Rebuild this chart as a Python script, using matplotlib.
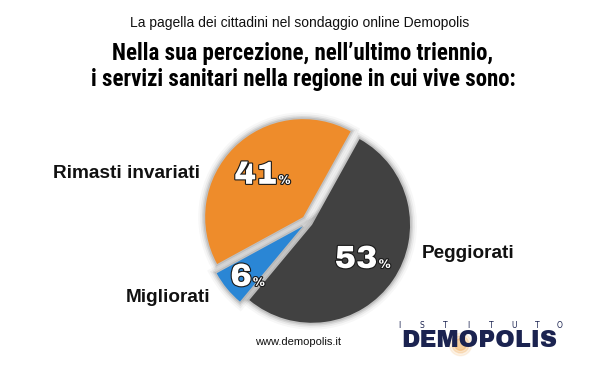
import numpy as np
import matplotlib.pyplot as plt
import matplotlib.patheffects as pe
from matplotlib.patches import Wedge

# data
categories = ['Peggiorati', 'Migliorati', 'Rimasti invariati']
values = [53, 6, 41]
colors = ['#414141', '#2a86d5', '#ee8c2b']
explode = [0.05, 0.07, 0.07]

subtitle = 'La pagella dei cittadini nel sondaggio online Demopolis'
title_lines = ["Nella sua percezione, nell\u2019ultimo triennio,",
               "i servizi sanitari nella regione in cui vive sono:"]
site = 'www.demopolis.it'

W, H = 600, 366
fig = plt.figure(figsize=(W / 100, H / 100), dpi=100)
fig.patch.set_facecolor('white')

# pie axes: centre about (308, 222) px, radius ~98 px
cx, cy, R = 308, 222, 98
span = 1.4
ax = fig.add_axes([(cx - R * span) / W, (H - cy - R * span) / H,
                   2 * R * span / W, 2 * R * span / H])

wedges, _ = ax.pie(values, colors=colors, explode=explode, startangle=61,
                   counterclock=False, radius=1.0)
# pie() resets the limits, so set them afterwards
ax.set_xlim(-span, span)
ax.set_ylim(-span, span)
ax.set_aspect('equal')
ax.axis('off')

# soft grey glow round the slices
for w in wedges:
    for lw, a in [(10, 0.03), (7, 0.05), (4.5, 0.08), (2.5, 0.1)]:
        ax.add_patch(Wedge(w.center, w.r, w.theta1, w.theta2, facecolor='none',
                           edgecolor='#000000', linewidth=lw, alpha=a, zorder=0))

# percentage labels, anchored at the digits' baseline/right edge:
# (distance from slice apex, angle tweak from slice middle)
pct_pos = [(0.80, 1), (0.80, 10), (0.43, -7)]
stroke = [pe.withStroke(linewidth=1.6, foreground='#1a1a1a')]
for w, v, (d, da) in zip(wedges, values, pct_pos):
    ang = np.deg2rad((w.theta1 + w.theta2) / 2 + da)
    x = w.center[0] + d * np.cos(ang)
    y = w.center[1] + d * np.sin(ang)
    ax.text(x, y, str(v), ha='right', va='baseline', fontsize=23,
            color='white', path_effects=stroke, family='Archivo Black')
    ax.text(x + 0.01, y, '%', ha='left', va='baseline', fontsize=9,
            color='white', path_effects=stroke, family='Archivo Black')

# category labels
lab_font = dict(fontsize=13.7, fontweight='bold', color='#111111',
                family='Liberation Sans')
fig.text(422 / W, 1 - 253 / H, categories[0], ha='left', va='center', **lab_font)
fig.text(210 / W, 1 - 298 / H, categories[1], ha='right', va='center', **lab_font)
fig.text(200 / W, 1 - 173 / H, categories[2], ha='right', va='center', **lab_font)

# titles
fig.text(0.5, 1 - 27 / H, subtitle, ha='center', va='baseline', fontsize=10,
         color='#111111', family='Liberation Sans')
for line, base in zip(title_lines, [60, 86]):
    fig.text(0.505, 1 - base / H, line, ha='center', va='baseline',
             fontsize=16.5, fontweight='black', color='#000000',
             family='Roboto Condensed')

# footer
fig.text(298 / W, 1 - 342 / H, site, ha='center', va='center',
         fontsize=8, color='#111111', family='Liberation Sans')

# logo: orange glow behind the O, spaced "ISTITUTO", heavy "DEMOPOLIS"
for s, a in [(260, 0.12), (150, 0.2), (70, 0.3)]:
    fig.add_artist(plt.Line2D([460 / W], [1 - 344 / H], marker='o',
                              markersize=np.sqrt(s), color='#f0a040',
                              alpha=a, transform=fig.transFigure))
for i, ch in enumerate('ISTITUTO'):
    fig.text((399 + i * 23) / W, 1 - 326 / H, ch, ha='center', va='center',
             fontsize=5.5, color='#1b2350', family='DejaVu Sans')
fig.text(479 / W, 1 - 341 / H, 'DEMOPOLIS', ha='center', va='center',
         fontsize=17, color='#1b2350', family='Archivo Black')

fig.savefig('out.png', dpi=100, facecolor='white')
